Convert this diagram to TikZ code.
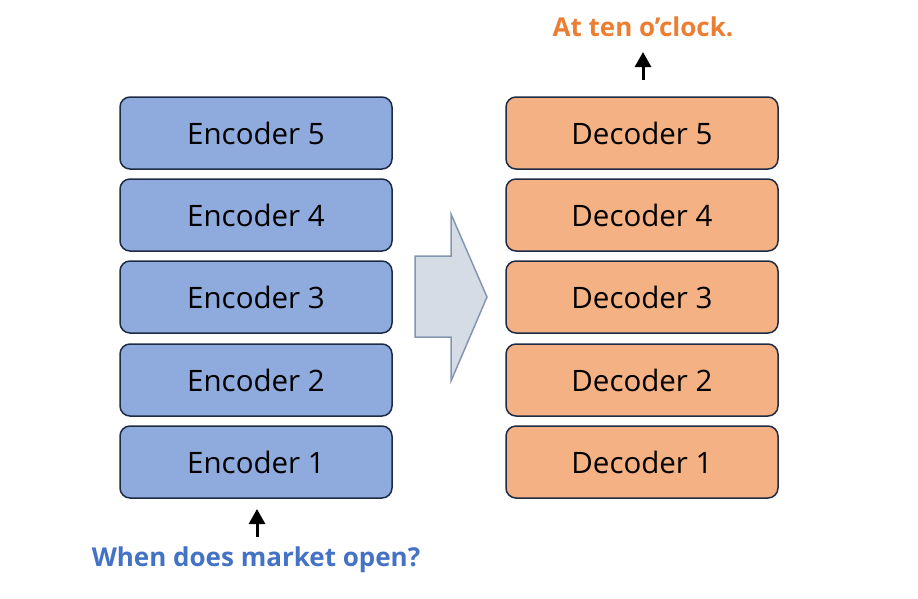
\documentclass[tikz,border=0pt]{standalone}
\usepackage{fontspec}
\setmainfont{Open Sans}
\usetikzlibrary{arrows.meta}
\definecolor{encfill}{HTML}{8FAADC}
\definecolor{decfill}{HTML}{F4B183}
\definecolor{boxline}{HTML}{1E2B45}
\definecolor{bigfill}{HTML}{D6DCE5}
\definecolor{bigline}{HTML}{8497B0}
\definecolor{qblue}{HTML}{4472C4}
\definecolor{aorange}{HTML}{ED7D31}
\tikzset{
  layerbox/.style={draw=boxline, line width=1.5pt, rounded corners=10pt,
    minimum width=272pt, minimum height=72pt, inner sep=0pt,
    font=\fontsize{29.5}{34}\selectfont},
  encbox/.style={layerbox, fill=encfill},
  decbox/.style={layerbox, fill=decfill},
  uparrow/.style={line width=3pt, -{Triangle[length=15pt,width=16pt]}},
  labeltext/.style={font=\fontsize{26}{30}\selectfont\bfseries, inner sep=0pt}
}
\begin{document}
\begin{tikzpicture}[x=1pt,y=-1pt]
\useasboundingbox (0,0) rectangle (918,598);
\node[encbox] (enc5) at (256,133) {Encoder 5};
\node[encbox] (enc4) at (256,215) {Encoder 4};
\node[encbox] (enc3) at (256,297) {Encoder 3};
\node[encbox] (enc2) at (256,380) {Encoder 2};
\node[encbox] (enc1) at (256,462) {Encoder 1};
\node[decbox] (dec5) at (642,133) {Decoder 5};
\node[decbox] (dec4) at (642,215) {Decoder 4};
\node[decbox] (dec3) at (642,297) {Decoder 3};
\node[decbox] (dec2) at (642,380) {Decoder 2};
\node[decbox] (dec1) at (642,462) {Decoder 1};
% big arrow
\draw[draw=bigline, fill=bigfill, line width=1.5pt, line join=miter]
  (415,256) -- (451,256) -- (451,214) -- (487,297) -- (451,381) -- (451,337) -- (415,337) -- cycle;
% input text and arrow
\node[labeltext, text=qblue] (question) at (256,560) {When does market open?};
\coordinate (qtail) at (257,537);
\coordinate (qhead) at (257,509);
\draw[uparrow] (qtail) -- (qhead);
% output text and arrow
\node[labeltext, text=aorange] (answer) at (643,27) {At ten o’clock.};
\coordinate (atail) at (643,80);
\coordinate (ahead) at (643,52);
\draw[uparrow] (atail) -- (ahead);
\end{tikzpicture}
\end{document}
